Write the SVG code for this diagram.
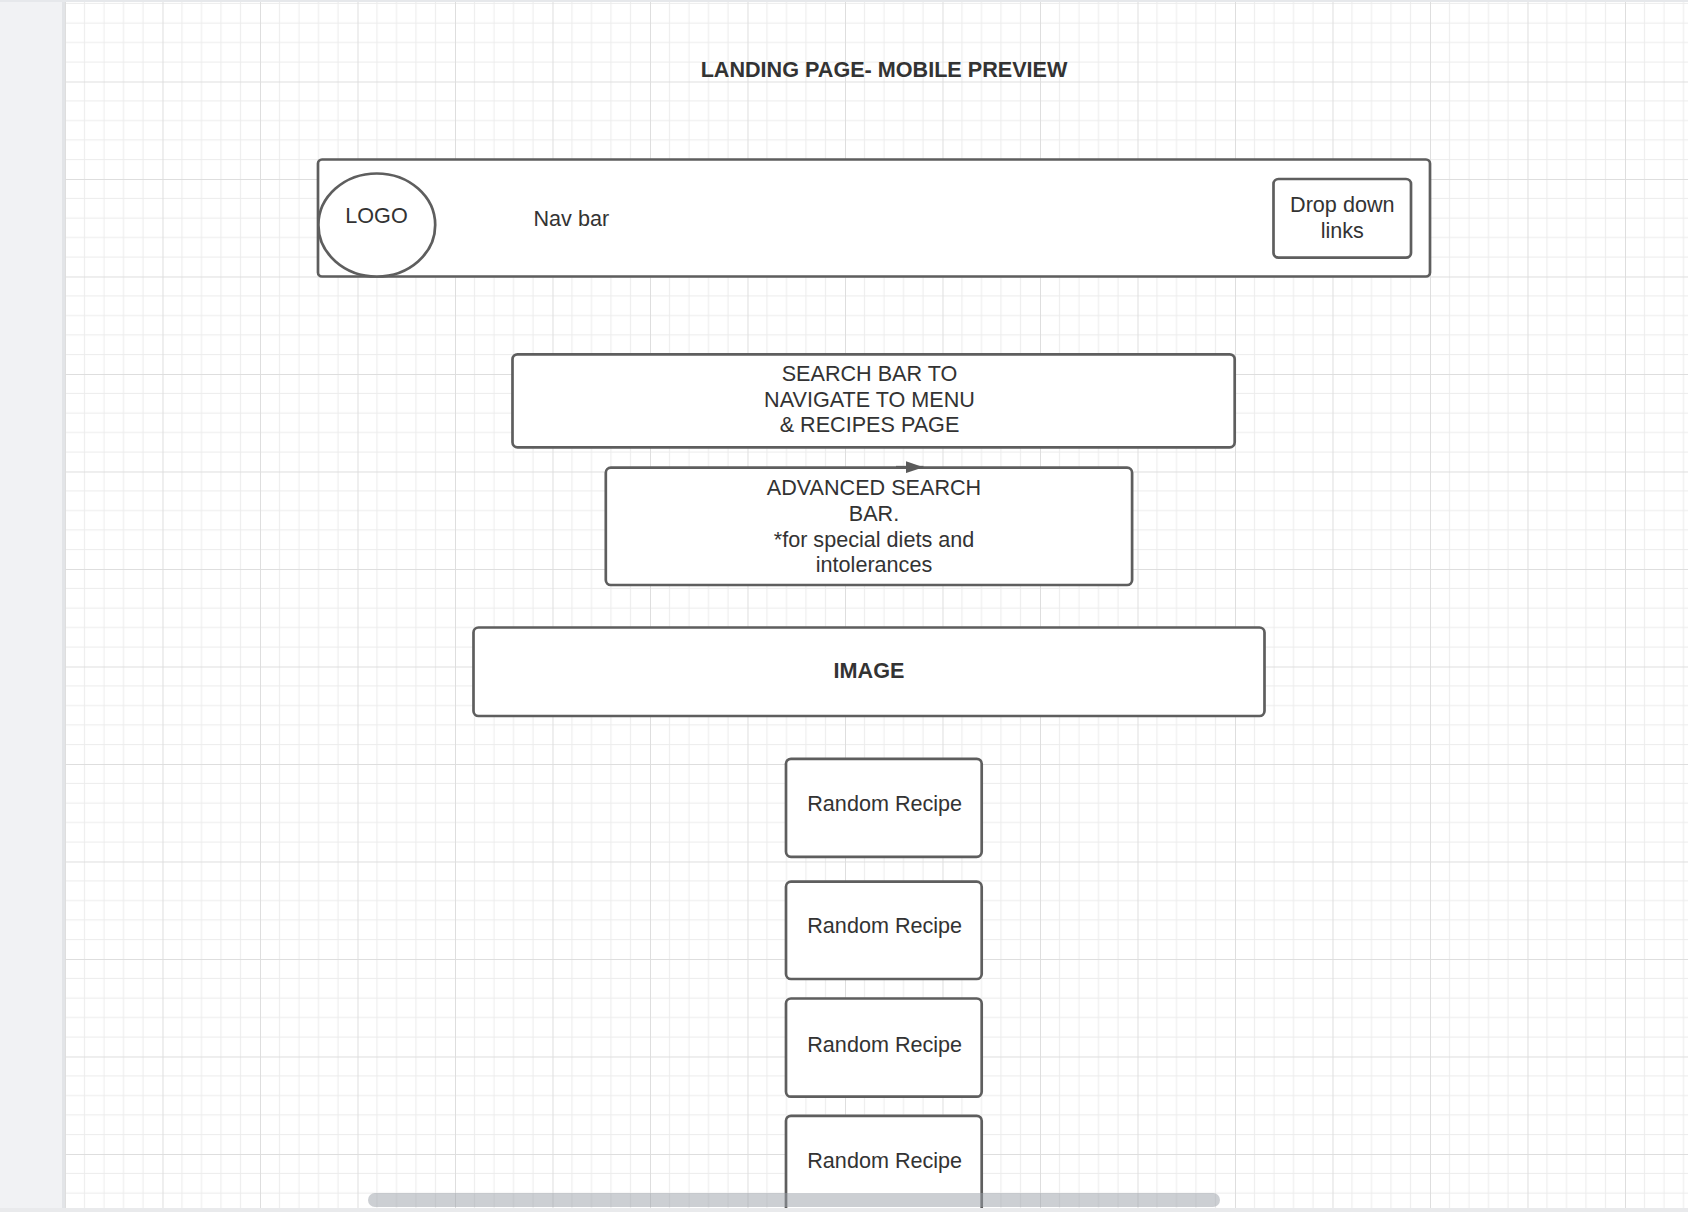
<svg xmlns="http://www.w3.org/2000/svg" width="1688" height="1212" viewBox="0 0 1688 1212">
<defs>
<pattern id="grid" patternUnits="userSpaceOnUse" x="65" y="81.5" width="97.5" height="97.5">
<path d="M19.5 0V97.5M39 0V97.5M58.5 0V97.5M78 0V97.5M0 19.5H97.5M0 39H97.5M0 58.5H97.5M0 78H97.5" stroke="#ececec" stroke-width="1" fill="none"/>
<path d="M0.5 0V97.5M0 0.5H97.5" stroke="#dedede" stroke-width="1" fill="none"/>
</pattern>
<marker id="arrow" viewBox="0 0 18 12" markerUnits="userSpaceOnUse" markerWidth="18" markerHeight="12" refX="18" refY="6" orient="auto">
<path d="M0 0L18 6L0 12z" fill="#5a5a5a"/>
</marker>
</defs>
<style>
.box{fill:#ffffff;stroke:#5e5e5e;stroke-width:2.7}
.t{font-family:"Liberation Sans",Arial,sans-serif;font-size:21.6px;fill:#333333;text-anchor:middle}
.b{font-weight:bold}
.l{text-anchor:start}
</style>
<rect x="0" y="0" width="1688" height="1212" fill="#ffffff"/>
<rect x="65" y="2" width="1623" height="1206" fill="url(#grid)"/>
<rect x="0" y="0" width="62" height="1212" fill="#f1f2f4"/>
<rect x="62" y="0" width="3" height="1212" fill="#e2e4e7"/>
<rect x="0" y="0" width="1688" height="2" fill="#e6e8eb"/>

<g id="title">
<text class="t b" x="884" y="76.7">LANDING PAGE- MOBILE PREVIEW</text>
</g>

<g id="navbar">
<rect class="box" x="318" y="159.5" width="1112" height="117" rx="4"/>
<text class="t l" x="533.5" y="226">Nav bar</text>
</g>
<g id="logo">
<ellipse class="box" cx="376.8" cy="225" rx="58.4" ry="51.5"/>
<text class="t" x="376.5" y="223.3">LOGO</text>
</g>
<g id="dropdown">
<rect class="box" x="1273.5" y="179" width="137.5" height="78.7" rx="5"/>
<text class="t" x="1342.3" y="211.7">Drop down</text>
<text class="t" x="1342.3" y="237.7">links</text>
</g>

<g id="searchbar">
<rect class="box" x="512.5" y="354.3" width="722.2" height="93" rx="5"/>
<text class="t" x="869.5" y="381">SEARCH BAR TO</text>
<text class="t" x="869.5" y="406.7">NAVIGATE TO MENU</text>
<text class="t" x="869.5" y="432.4">&amp; RECIPES PAGE</text>
</g>

<g id="advsearch">
<rect class="box" x="605.8" y="467.7" width="526.3" height="117.3" rx="5"/>
<text class="t" x="874" y="495">ADVANCED SEARCH</text>
<text class="t" x="874" y="521">BAR.</text>
<text class="t" x="874" y="546.7">*for special diets and</text>
<text class="t" x="874" y="572.3">intolerances</text>
</g>

<g id="connectors">
<path d="M896 467.2L923.5 467.2" stroke="#5e5e5e" stroke-width="2.7" fill="none" marker-end="url(#arrow)"/>
</g>

<g id="image">
<rect class="box" x="473.5" y="627.5" width="791" height="88.5" rx="5"/>
<text class="t b" x="869" y="677.7">IMAGE</text>
</g>

<g id="recipe1">
<rect class="box" x="786" y="758.8" width="195.7" height="98" rx="5"/>
<text class="t" x="884.7" y="811">Random Recipe</text>
</g>
<g id="recipe2">
<rect class="box" x="786" y="881.7" width="195.7" height="97.3" rx="5"/>
<text class="t" x="884.7" y="933.3">Random Recipe</text>
</g>
<g id="recipe3">
<rect class="box" x="786" y="998.5" width="195.7" height="98.2" rx="5"/>
<text class="t" x="884.7" y="1051.7">Random Recipe</text>
</g>
<g id="recipe4">
<rect class="box" x="786" y="1115.8" width="195.7" height="120" rx="5"/>
<text class="t" x="884.7" y="1168.3">Random Recipe</text>
</g>

<rect x="368" y="1193" width="852" height="14" rx="7" fill="#9aa0a8" opacity="0.5"/>
<rect x="0" y="1208" width="1688" height="4" fill="#e9eaec"/>
</svg>
